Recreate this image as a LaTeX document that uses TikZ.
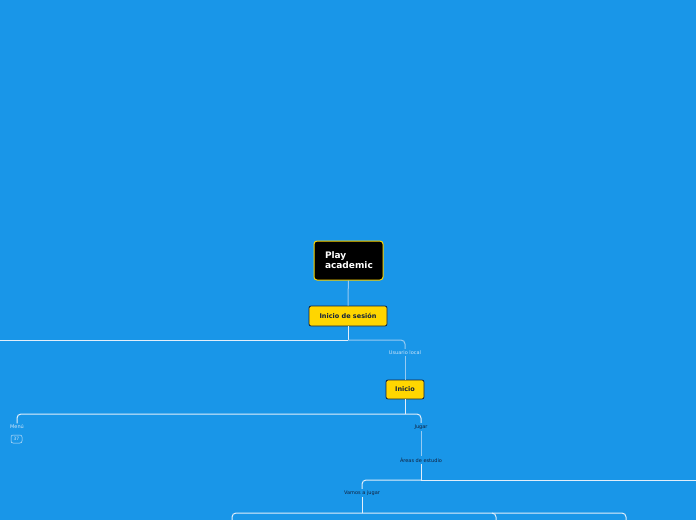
\documentclass[tikz,border=0pt]{standalone}
\usepackage{fontspec}
\setmainfont{DejaVu Sans}
\usetikzlibrary{calc}
\definecolor{mapblue}{RGB}{25,150,232}
\definecolor{topicyellow}{RGB}{255,214,0}
\definecolor{linewhite}{RGB}{226,238,250}
\definecolor{linelight}{RGB}{150,202,242}
\definecolor{labellight}{RGB}{205,228,248}
\definecolor{labeldark}{RGB}{18,32,60}
\tikzset{
  centraltopic/.style={draw=topicyellow, line width=1pt, fill=black, rounded corners=3pt, text=white, font=\fontsize{9}{10}\selectfont\bfseries, align=left, text width=47pt, inner xsep=11pt, minimum height=39pt},
  maintopic/.style={draw=labeldark, line width=0.8pt, fill=topicyellow, rounded corners=2pt, text=labeldark, font=\fontsize{6.5}{7}\selectfont\bfseries, inner sep=0pt},
  sublight/.style={text=labellight, font=\fontsize{5}{6}\selectfont, inner sep=1.5pt},
  subdark/.style={text=labeldark, font=\fontsize{5}{6}\selectfont, inner sep=1.5pt},
  countbadge/.style={draw=labellight, line width=0.5pt, rounded corners=2pt, text=labellight, font=\fontsize{4.5}{5}\selectfont, minimum width=11pt, minimum height=8pt, inner sep=0pt},
  barline/.style={draw=linewhite, line width=1pt, rounded corners=4pt},
  stemline/.style={draw=linelight, line width=1pt, rounded corners=4pt}
}

\begin{document}
\begin{tikzpicture}[x=1pt, y=-1pt]
		%%%%% START %%%%%
		
		\fill[mapblue] (0, 0) rectangle (696, 520);
		\useasboundingbox (0, 0) rectangle (696, 520);
		
		\node[centraltopic] (play) at (348.5, 260.5) {Play\\academic};
		\node[maintopic, minimum width=78pt, minimum height=20pt] (sesion) at (348, 316) {Inicio de sesión};
		\node[sublight] (usuario) at (405, 352.5) {Usuario local};
		\node[maintopic, minimum width=38pt, minimum height=19pt] (inicio) at (405, 389.5) {Inicio};
		\node[sublight] (menu) at (17, 427) {Menú};
		\node[countbadge] (menucount) at (16.5, 439) {37};
		\node[subdark] (jugar) at (421, 427) {Jugar};
		\node[subdark] (areas) at (421, 460) {Áreas de estudio};
		\node[subdark] (vamos) at (362, 493) {Vamos a jugar};
		
		\coordinate (sesionjoin) at (348, 340);
		\coordinate (sesionleft) at (0, 340);
		\coordinate (iniciojoin) at (405, 414);
		\coordinate (areasjoin) at (421, 480);
		\coordinate (areasright) at (696, 480);
		\coordinate (vamosjoin) at (362, 513);
		\coordinate (vamosa) at (232, 520);
		\coordinate (vamosb) at (496, 520);
		\coordinate (vamosc) at (626, 520);
		
		\draw[stemline] (play) -- (sesion);
		\draw[barline] (sesion.south) -- (sesionjoin);
		\draw[barline] (sesionjoin) -- (sesionleft);
		\draw[stemline] (sesionjoin) -| (usuario.north);
		\draw[stemline] (usuario.south) -- (inicio.north);
		
		\draw[barline] (inicio.south) -- (iniciojoin);
		\draw[barline] (iniciojoin) -| (menu.north);
		\draw[barline] (iniciojoin) -| (jugar.north);
		\draw[stemline] (jugar.south) -- (areas.north);
		
		\draw[barline] (areas.south) -- (areasjoin);
		\draw[barline] (areasjoin) -- (areasright);
		\draw[barline] (areasjoin) -| (vamos.north);
		
		\draw[barline] (vamos.south) -- (vamosjoin);
		\draw[barline] (vamosjoin) -| (vamosa);
		\draw[barline] (vamosjoin) -| (vamosc);
		\draw[barline] ($(vamosb)+(-4, -7)$) -| (vamosb);
		
		%%%%% END %%%%%
\end{tikzpicture}
\end{document}
